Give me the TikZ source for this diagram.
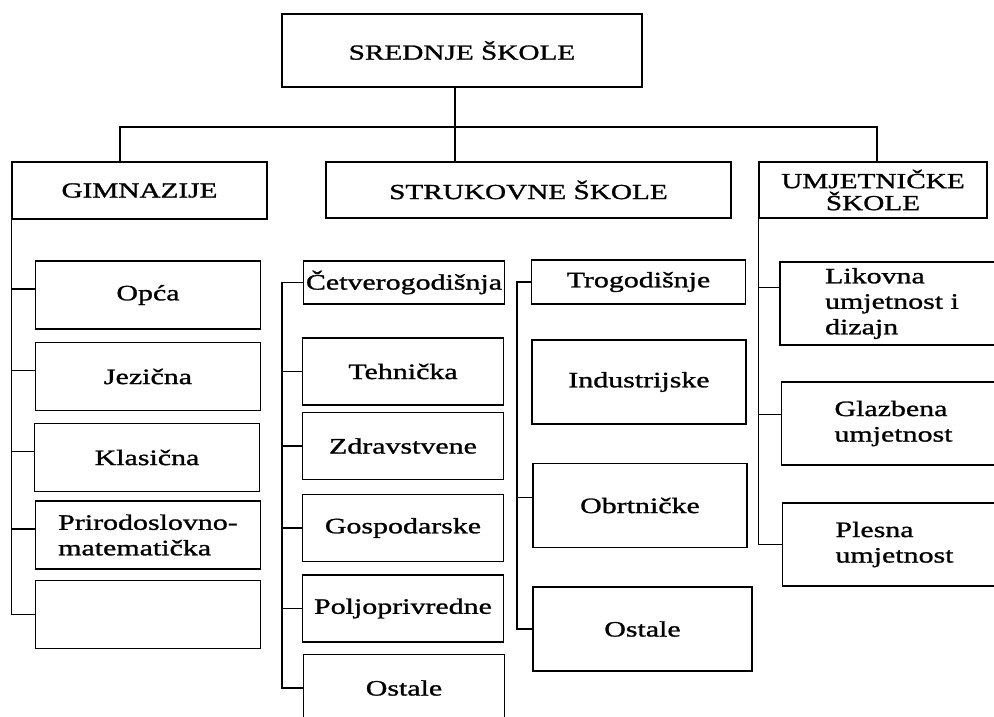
\documentclass[tikz,border=0pt]{standalone}
\usepackage{fontspec}
\setmainfont{Liberation Serif}[FakeStretch=1.36, FakeBold=1.2]
\usetikzlibrary{calc}

\begin{document}
\begin{tikzpicture}[x=1pt, y=-1pt,
  box/.style = {draw, line width=1.6pt, inner sep=1pt,
    font=\fontsize{22}{25.5}\selectfont},
  head/.style = {box, font=\fontsize{21.5}{22}\selectfont},
  gim/.style = {box, minimum width=225pt, minimum height=68pt},
  cetv/.style = {box, minimum width=201pt, minimum height=67pt},
  trog/.style = {box, minimum width=214pt, minimum height=84pt},
  umj/.style = {box, minimum width=224pt, minimum height=83pt, align=left},
  link/.style = {line width=1.3pt}]
\useasboundingbox (0,0) rectangle (994,716);

\node[head, minimum width=360pt, minimum height=73pt] (top) at (462,50.5) {SREDNJE ŠKOLE};
\node[head, minimum width=255pt, minimum height=57pt] (G) at (139.5,190.5) {GIMNAZIJE};
\node[head, minimum width=405pt, minimum height=56pt] (S) at (528.5,190) {STRUKOVNE ŠKOLE};
\node[head, minimum width=228pt, minimum height=56pt, align=center] (U) at (873,190) {UMJETNIČKE\\ŠKOLE};

% gimnazije
\node[gim] (G1) at (148,295) {Opća};
\node[gim] (G2) at (148,376.5) {Jezična};
\node[gim] (G3) at (147,457.5) {Klasična};
\node[gim, align=left] (G4) at (148,535) {Prirodoslovno-\\matematička};
\node[gim] (G5) at (148,614.5) {}; % empty box

% strukovne, first part
\node[cetv, minimum height=43pt] (S1) at (404,282.5) {Četverogodišnja};
\node[cetv] (S2) at (403,371.5) {Tehnička};
\node[cetv] (S3) at (403,446) {Zdravstvene};
\node[cetv] (S4) at (403,528) {Gospodarske};
\node[cetv] (S5) at (403,608.5) {Poljoprivredne};
\node[cetv] (S6) at (404,688) {Ostale};

% strukovne, second part
\node[trog, minimum height=44pt] (T1) at (638.5,282) {Trogodišnje};
\node[trog] (T2) at (639,382) {Industrijske};
\node[trog] (T3) at (640,505.5) {Obrtničke};
\node[trog, minimum width=219pt] (T4) at (642.5,629) {Ostale};

% umjetnicke
\node[umj] (U1) at (892,303.5) {Likovna\\umjetnost i\\dizajn};
\node[umj] (U2) at (893.5,423.5) {Glazbena\\umjetnost};
\node[umj] (U3) at (894.5,544.5) {Plesna\\umjetnost};

\coordinate (busL) at (120,127);
\coordinate (busR) at (877,127);
\coordinate (stem) at (455,127);
\coordinate (trunkA) at (282,279);
\coordinate (trunkB) at (517,278);

\draw[link] (busL |- G.north) |- (busR) -- (busR |- U.north);
\draw[link] (stem |- top.south) -- (stem |- S.north);

\draw[link] (G.south west) |- (G5.west);
\foreach \n in {G1,G2,G3,G4}
  \draw[link] ([yshift=6pt]\n.west) -- ([yshift=6pt]\n.west -| G.west);

\draw[link] (S1.west) -- (S1.west -| trunkA) |- (S6.west);
\foreach \n in {S2,S3,S4,S5}
  \draw[link] (\n.west) -- (\n.west -| trunkA);

\draw[link] (T1.west) -- (T1.west -| trunkB) |- (T4.west);
\draw[link] ([yshift=8pt]T3.west) -- ([yshift=8pt]T3.west -| trunkB);

\draw[link] (U.south west) |- (U3.west);
\draw[link] ([yshift=16pt]U1.west) -- ([yshift=16pt]U1.west -| U.west);
\draw[link] ([yshift=9pt]U2.west) -- ([yshift=9pt]U2.west -| U.west);

\end{tikzpicture}
\end{document}
